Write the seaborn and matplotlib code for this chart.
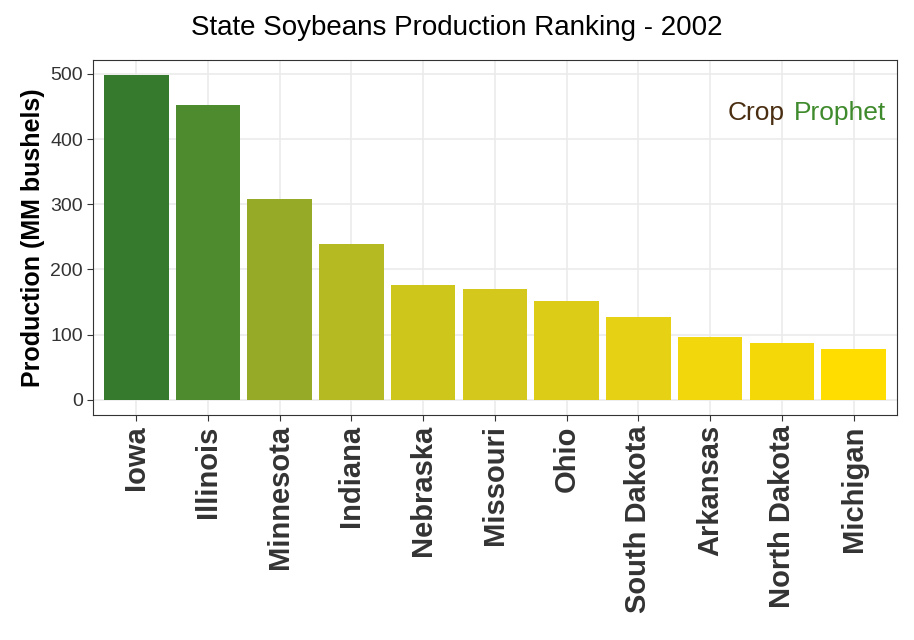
import matplotlib
matplotlib.use("Agg")
import matplotlib.pyplot as plt
import seaborn as sns
import pandas as pd

plt.rcParams["font.family"] = "Liberation Sans"

states = ["Iowa", "Illinois", "Minnesota", "Indiana", "Nebraska", "Missouri", "Ohio",
          "South Dakota", "Arkansas", "North Dakota", "Michigan"]
production = [498, 452, 308, 239, 176, 170, 152, 127, 97, 87, 78]
yticks = [0, 100, 200, 300, 400, 500]

palette = ["#367B2D", "#4E8A2E", "#97AA28", "#B5B922", "#CFC61C", "#D3C81B",
           "#DCCC17", "#E6D114", "#F1D70B", "#F5D808", "#FFDD00"]

df = pd.DataFrame({"state": states, "prod": production})

fig = plt.figure(figsize=(9.14, 6.4), dpi=100)
ax = fig.add_axes([0.102, 0.352, 0.879, 0.554])
sns.barplot(data=df, x="state", y="prod", hue="state", palette=palette,
            legend=False, width=0.9, ax=ax, saturation=1, zorder=3)
ax.set_xlim(-0.6, 10.6)
ax.set_ylim(-23, 521)
ax.set_yticks(yticks)
ax.set_yticklabels([str(t) for t in yticks], fontsize=14, color="#4d4d4d")
ax.set_xticks(range(len(states)))
ax.set_xticklabels(states, rotation=90, fontsize=21, fontweight="bold", color="#4d4d4d")
ax.grid(True, color="#ebebeb", linewidth=1.2, zorder=0)
ax.set_axisbelow(True)
for s in ax.spines.values():
    s.set_color("#333333")
    s.set_linewidth(0.8)
ax.tick_params(colors="#333333", length=4)
ax.set_xlabel("")
ax.set_ylabel("Production (MM bushels)", fontsize=18, fontweight="bold")
fig.text(0.5, 0.957, "State Soybeans Production Ranking - 2002", ha="center",
         va="center", fontsize=20)
ax.text(0.79, 0.85, "Crop", transform=ax.transAxes, fontsize=19, color="#4a2e12",
        ha="left", va="center")
ax.text(0.872, 0.85, "Prophet", transform=ax.transAxes, fontsize=19, color="#3f8a2c",
        ha="left", va="center")
fig.savefig("out.png", dpi=100)
